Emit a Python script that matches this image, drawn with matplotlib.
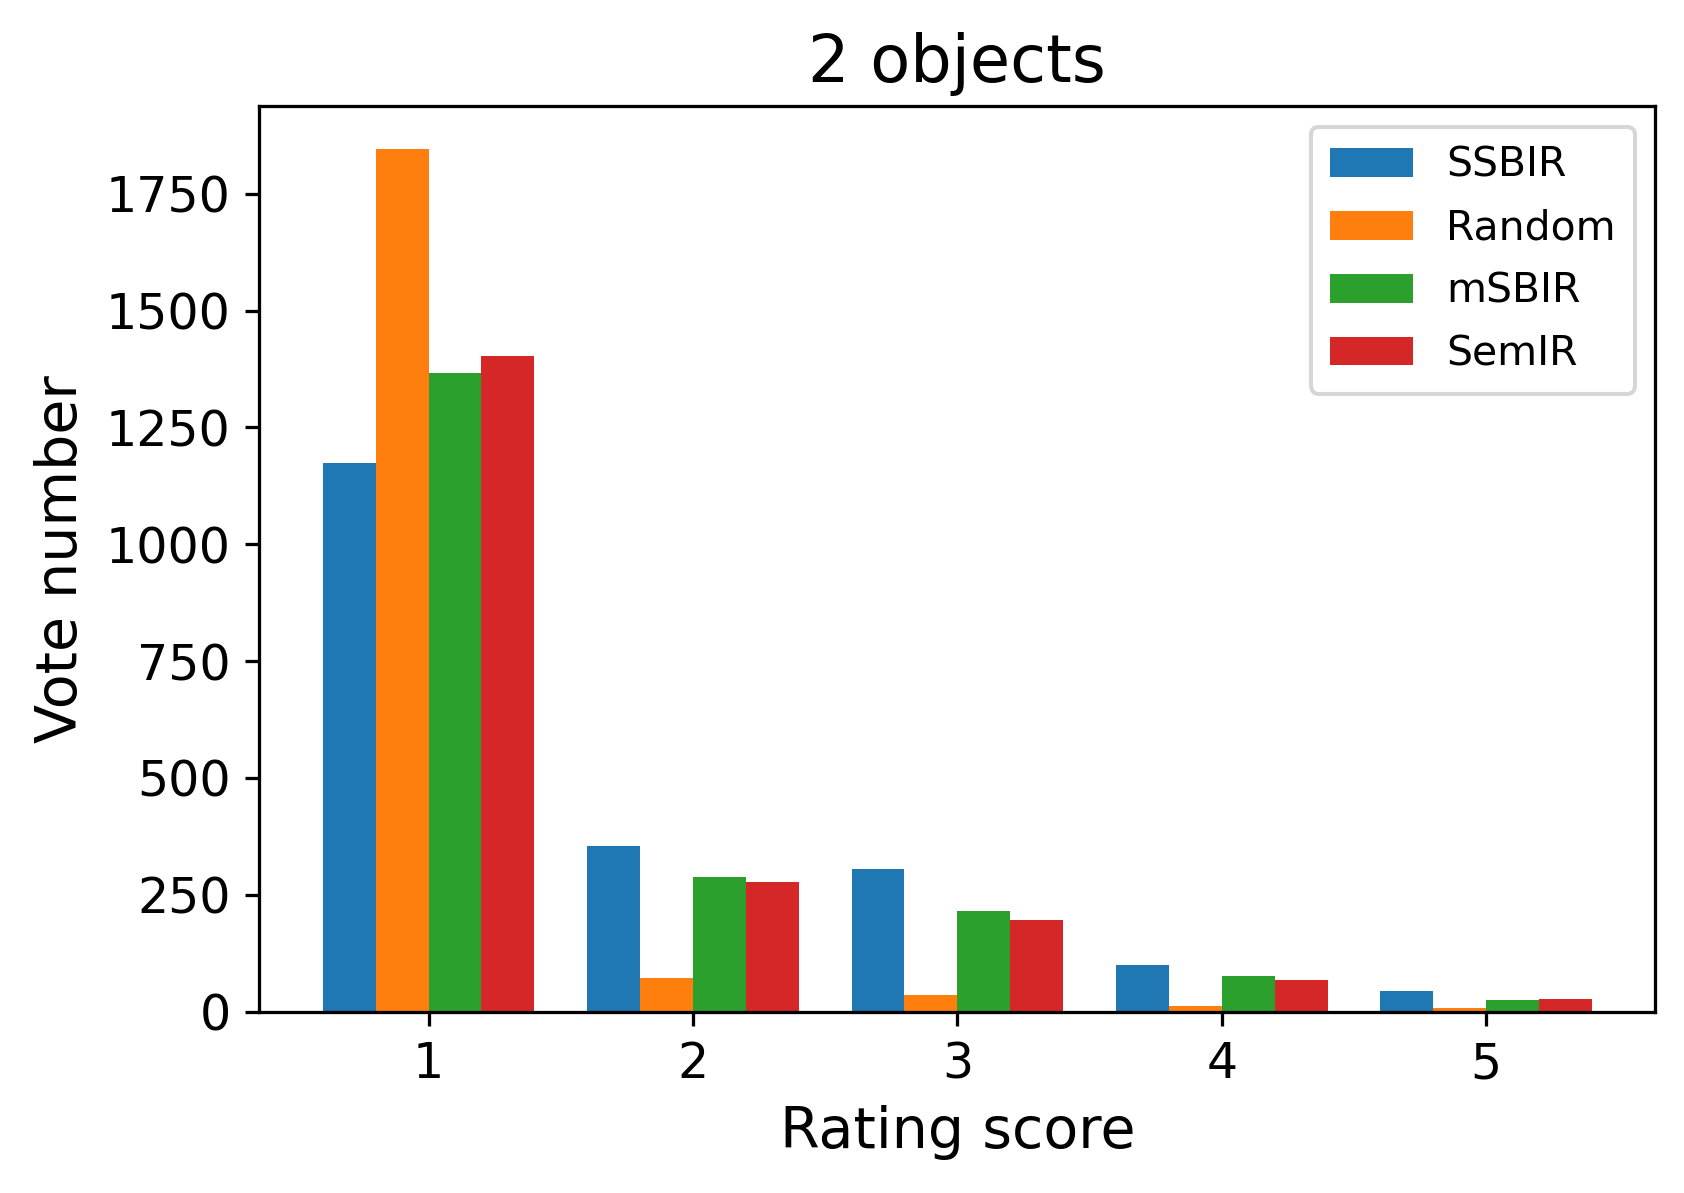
import numpy as np
import matplotlib
matplotlib.use('Agg')
import matplotlib.pyplot as plt

scores = [1, 2, 3, 4, 5]
methods = ['SSBIR', 'Random', 'mSBIR', 'SemIR']
ssbir = [1174, 354, 305, 100, 44]
random_votes = [1845, 73, 36, 12, 8]
msbir = [1366, 289, 216, 76, 25]
semir = [1402, 278, 197, 68, 27]

series = [ssbir, random_votes, msbir, semir]
width = 0.2

fig = plt.figure(figsize=(1684 / 294, 1193 / 294), dpi=294)
ax = fig.add_axes([0.154, 0.152, 0.829, 0.759])

x = np.array(scores, dtype=float)
for k, (name, vals) in enumerate(zip(methods, series)):
    ax.bar(x + (k - 1.5) * width, vals, width, label=name)

ax.set_xticks(scores)
ax.set_xlim(0.36, 5.64)
ax.tick_params(labelsize=12)
ax.set_xlabel('Rating score', fontsize=14)
ax.set_ylabel('Vote number', fontsize=14)
ax.set_title('2 objects', fontsize=16)
ax.legend(fontsize=10, loc='upper right', labelspacing=0.56,
          borderpad=0.47, handlelength=2.05)

fig.savefig('out.png', dpi=294)
